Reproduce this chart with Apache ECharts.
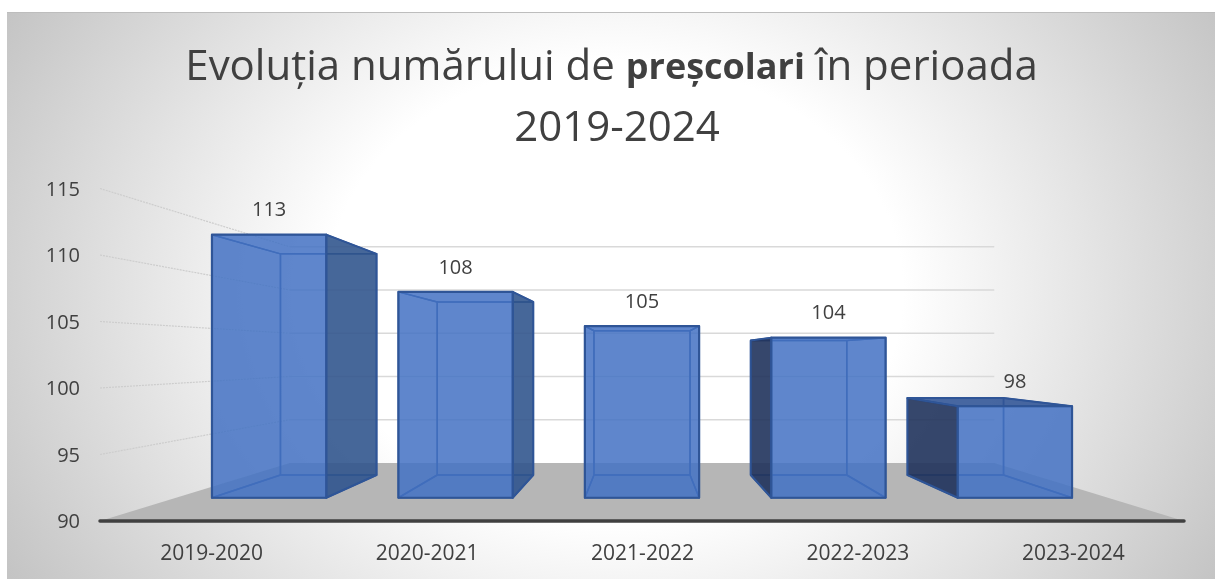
<!DOCTYPE html>
<html><head><meta charset="utf-8">
<style>
html,body{margin:0;padding:0;background:#fff;}
#bg{position:absolute;left:7px;top:12px;width:1208px;height:567px;box-sizing:border-box;border-top:1px solid #bdbdbd;
background:radial-gradient(ellipse 600px 480px at 608px 278px,#ffffff 0%,#ffffff 48%,#c4c4c4 117%);}
#c{position:absolute;left:0;top:0;width:1221px;height:579px;}
</style>
<script src="https://cdn.jsdelivr.net/npm/echarts@6/dist/echarts.min.js"></script>
</head><body><div id="bg"></div><div id="c"></div>
<script>
var categories=['2019-2020','2020-2021','2021-2022','2022-2023','2023-2024'];
var values=[113,108,105,104,98];
var wallTicks=[95,100,105,110,115];
var FONT='"Open Sans"';
var chart=echarts.init(document.getElementById('c'),null,{renderer:'canvas'});
var VP=[642,355], S_BACK=0.65, S_BAR_F=0.86, S_BAR_B=0.723, HALF=0.613;
function proj(p,s){return [VP[0]+(p[0]-VP[0])*s, VP[1]+(p[1]-VP[1])*s];}
function poly(pts,fill,stroke,w){return {type:'polygon',shape:{points:pts},style:{fill:fill,stroke:stroke||'none',lineWidth:w||0,lineJoin:'round'}};}
function renderFloor(params,api){
  var band=api.size([1,0])[0];
  function L(v){var p=api.coord([0,v]);return [p[0]-band/2,p[1]];}
  function R(v){var p=api.coord([categories.length-1,v]);return [p[0]+band/2,p[1]];}
  var a=L(90),b=R(90);
  var children=[poly([a,b,proj(b,S_BACK),proj(a,S_BACK)],'#b6b6b6')];
  wallTicks.forEach(function(t){
    var l=L(t),r=R(t),lb=proj(l,S_BACK),rb=proj(r,S_BACK);
    children.push({type:'line',shape:{x1:lb[0],y1:lb[1],x2:rb[0],y2:rb[1]},style:{stroke:'#d9d9d9',lineWidth:1.5}});
    children.push({type:'line',shape:{x1:l[0],y1:l[1],x2:lb[0],y2:lb[1]},style:{stroke:'#cdcdcd',lineWidth:1.2,lineDash:[2,1]}});
  });
  return {type:'group',children:children};
}
function renderBar(params,api){
  var i=api.value(0),v=api.value(1);
  var dx=api.size([1,0])[0]*HALF/2;
  var c=api.coord([i,90]),t=api.coord([i,v]);
  var bl=[c[0]-dx,c[1]],br=[c[0]+dx,c[1]],tl=[t[0]-dx,t[1]],tr=[t[0]+dx,t[1]];
  function F(p){return proj(p,S_BAR_F);} function B(p){return proj(p,S_BAR_B);}
  var edge='#2f5597', inner='#2f5597';
  var kids=[];
  kids.push(poly([B(bl),B(br),B(tr),B(tl)],'rgba(68,114,196,0.10)',inner,1.5));
  kids.push(poly([F(bl),F(br),B(br),B(bl)],'rgba(68,114,196,0.25)',inner,1.5));
  var vis=[];
  if(F(tl)[1]>B(tl)[1]+1) vis.push('top'); else kids.push(poly([F(tl),F(tr),B(tr),B(tl)],'rgba(68,114,196,0.10)',inner,1.5));
  if(B(bl)[0]<F(bl)[0]-1) vis.push('left'); else kids.push(poly([F(bl),F(tl),B(tl),B(bl)],'rgba(68,114,196,0.10)',inner,1.5));
  if(B(br)[0]>F(br)[0]+1) vis.push('right'); else kids.push(poly([F(br),F(tr),B(tr),B(br)],'rgba(68,114,196,0.10)',inner,1.5));
  if(vis.indexOf('top')>=0) kids.push(poly([F(tl),F(tr),B(tr),B(tl)],'rgba(50,85,150,0.88)',edge,2));
  if(vis.indexOf('left')>=0) kids.push(poly([F(bl),F(tl),B(tl),B(bl)],'rgba(34,52,92,0.9)',edge,2));
  if(vis.indexOf('right')>=0) kids.push(poly([F(br),F(tr),B(tr),B(br)],'rgba(48,84,140,0.88)',edge,2));
  kids.push(poly([F(bl),F(br),F(tr),F(tl)],'rgba(68,114,196,0.84)',edge,2.2));
  var lp=F([c[0],t[1]]);
  kids.push({type:'text',x:lp[0],y:lp[1]-24,style:{text:String(v),fill:'#404040',font:'20px '+FONT,textAlign:'center',textVerticalAlign:'middle'}});
  return {type:'group',children:kids};
}
var option={
  animation:false,
  title:{left:612,top:33,textAlign:'center',
    text:'{a|Evoluția numărului de }{b|preșcolari}{a| în perioada }\n{a|2019-2024}',
    textStyle:{fontWeight:'normal',rich:{a:{fontFamily:FONT,fontSize:42,fontWeight:'normal',color:'#404040',lineHeight:61},b:{fontFamily:FONT,fontSize:36,fontWeight:'bold',color:'#404040',lineHeight:61}}}},
  grid:[{left:100,width:1084,top:188.5,height:332.5},{left:104,width:1077,top:190,height:332.5}],
  xAxis:[
    {gridIndex:0,type:'category',data:categories,axisTick:{show:false},axisLabel:{show:false},axisLine:{lineStyle:{color:'#404040',width:3.5,cap:'round'}},z:5},
    {gridIndex:1,type:'category',data:categories,axisTick:{show:false},axisLine:{show:false},axisLabel:{fontFamily:FONT,fontSize:21,color:'#404040',margin:21}}
  ],
  yAxis:[
    {gridIndex:0,type:'value',min:90,max:115,interval:5,show:false,splitLine:{show:false}},
    {gridIndex:1,type:'value',min:90,max:115,interval:5,offset:4,splitLine:{show:false},axisLine:{show:false},axisTick:{show:false},axisLabel:{fontFamily:FONT,fontSize:20,color:'#404040',margin:20}}
  ],
  series:[
    {type:'custom',xAxisIndex:0,yAxisIndex:0,renderItem:renderFloor,data:[[0,90]],silent:true,z:1,clip:false},
    {type:'custom',xAxisIndex:0,yAxisIndex:0,renderItem:renderBar,data:values.map(function(v,i){return [i,v];}),z:2,clip:false,silent:true}
  ]
};
chart.setOption(option);
</script></body></html>
